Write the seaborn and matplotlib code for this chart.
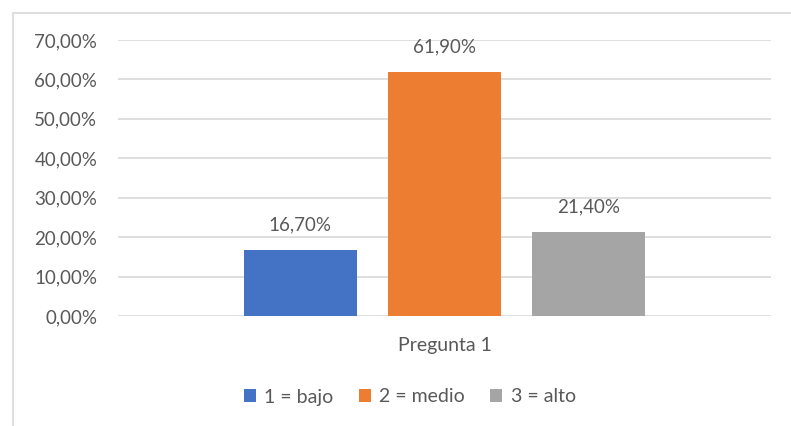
import matplotlib
matplotlib.use("Agg")
import matplotlib.pyplot as plt
import seaborn as sns
import pandas as pd
from matplotlib.lines import Line2D
from matplotlib.patches import Patch

# data
group = ["Pregunta 1"]
categories = ["1 = bajo", "2 = medio", "3 = alto"]
values = [16.70, 61.90, 21.40]
colors = ["#4472C4", "#ED7D31", "#A5A5A5"]
yticks = [0, 10, 20, 30, 40, 50, 60, 70]

df = pd.DataFrame({"pregunta": group * len(categories),
                   "nivel": categories, "valor": values})

sns.set_theme(style="white")
plt.rcParams['font.family'] = ['Lato', 'DejaVu Sans']
TXT = "#595959"
FS = 13.5

fig = plt.figure(figsize=(7.91, 4.26), dpi=100)
ax = fig.add_axes([118/791, 1-316/426, (771-118)/791, (316-40)/426])

sns.barplot(data=df, x="pregunta", y="valor", hue="nivel", palette=colors,
            width=0.662, gap=0.215, ax=ax, legend=False, saturation=1,
            edgecolor="none")

ax.set_xlim(-0.5, 0.5)
ax.set_ylim(0, 70)
ax.set_yticks(yticks)
ax.set_yticklabels([f"{v:.2f}%".replace(".", ",") for v in yticks])
ax.yaxis.grid(True, color="#D9D9D9", linewidth=1.2)
ax.set_axisbelow(True)
for s in ax.spines.values():
    s.set_visible(False)
ax.tick_params(axis="y", length=0, pad=15, labelsize=FS, labelcolor=TXT)
ax.tick_params(axis="x", length=0, pad=15, labelsize=FS + 0.5, labelcolor=TXT)
ax.set_xlabel("")
ax.set_ylabel("")

for cont in ax.containers:
    for bar in cont:
        h = bar.get_height()
        ax.annotate(f"{h:.2f}%".replace(".", ","),
                    (bar.get_x() + bar.get_width()/2, h),
                    xytext=(0, 18), textcoords="offset points",
                    ha="center", va="center", fontsize=FS, color=TXT)

handles = [Patch(facecolor=c, edgecolor="none") for c in colors]
fig.legend(handles, categories, loc="center", bbox_to_anchor=(410/791, 1-397/426),
           ncol=3, frameon=False, fontsize=FS + 0.5, labelcolor=TXT,
           handlelength=0.6, handleheight=0.6, handletextpad=0.45,
           columnspacing=1.3)

# chart frame
fig.add_artist(Line2D([13/791, 13/791], [0, 1-13/426], color="#D9D9D9",
                      linewidth=1.2, transform=fig.transFigure))
fig.add_artist(Line2D([13/791, 1], [1-13/426, 1-13/426], color="#D9D9D9",
                      linewidth=1.2, transform=fig.transFigure))

fig.savefig("out.png", dpi=100, facecolor="white")
